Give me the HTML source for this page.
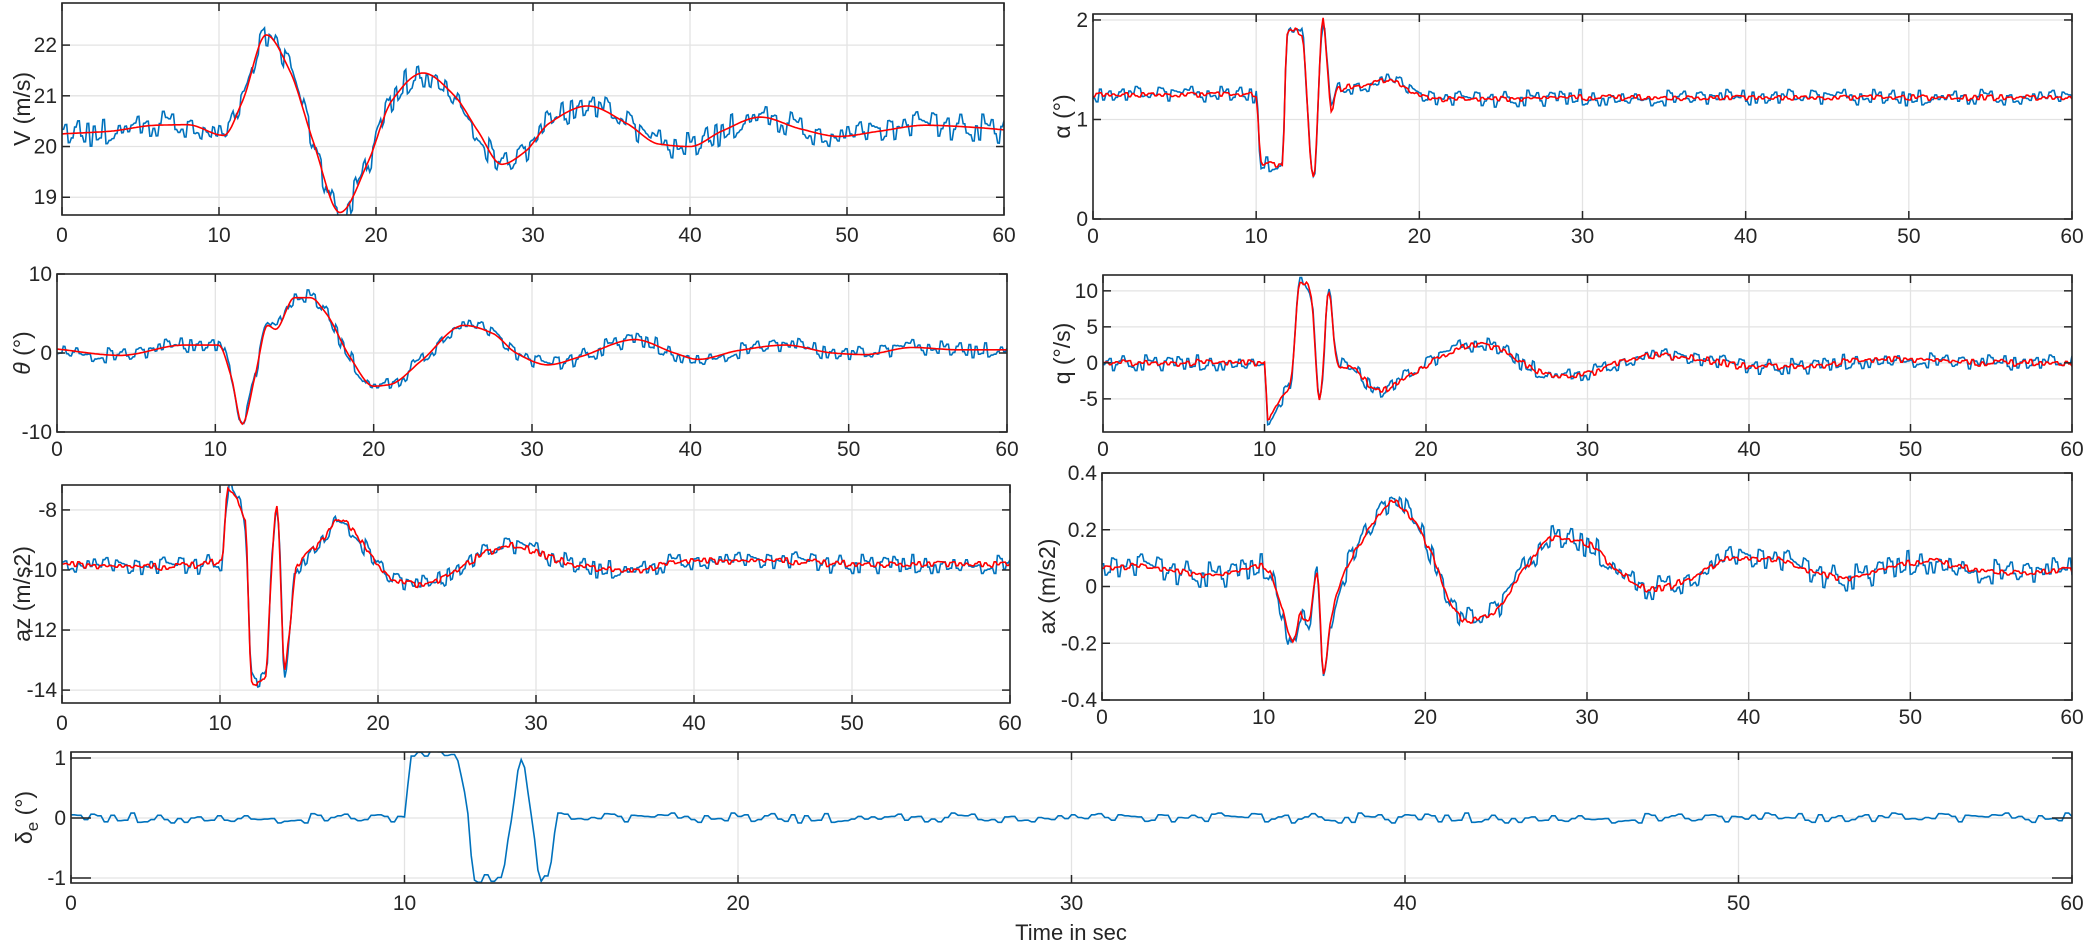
<!DOCTYPE html>
<html><head><meta charset="utf-8"><style>
html,body{margin:0;padding:0;background:#fff;}
svg{display:block;}
text{font-family:"Liberation Sans",sans-serif;fill:#262626;}
</style></head>
<body>
<svg id="fig" width="2087" height="944" viewBox="0 0 2087 944" xmlns="http://www.w3.org/2000/svg">
<text x="1071" y="940" font-size="22" text-anchor="middle">Time in sec</text>
</svg>
<script>
// ===== data (knot times in seconds, values in panel units) =====
const xTicks = [0,10,20,30,40,50,60];
const vTimes = [0,3,6,8,10.3,11.5,13,14.5,16,17.7,19.5,21,23,25,26.5,28,29.5,31,33.5,36,38,40,42,44.5,47,49.5,52,55,58,60];
const vValues = [20.25,20.3,20.42,20.43,20.22,20.9,22.2,21.5,20.1,18.7,19.7,20.9,21.45,21.0,20.3,19.65,19.9,20.45,20.8,20.45,20.05,20.0,20.3,20.58,20.35,20.2,20.3,20.42,20.38,20.33];
const thTimes = [0,4,8,10.2,11,11.7,12.5,13.3,13.8,15,16,17,18.5,20,21,23,25.7,27.5,29,31,33,36.5,39,40.5,43,46,49,51,54,57,60];
const thValues = [0.5,-0.3,1,1,-3,-9,-3,3.5,3,7,7,5,-0.5,-4.2,-4,-1,3.5,2.5,0,-1.5,-0.5,1.7,0,-0.8,0.3,1,0,-0.2,0.7,0.4,0.4];
const azTimes = [0,5,10.1,10.5,11,11.6,12.0,12.3,12.9,13.2,13.6,14.1,14.4,14.8,15.5,16.5,17.5,18.5,19.5,21,23,25,27,28.5,31,33,36,40,45,50,55,60];
const azValues = [-9.8,-9.9,-9.7,-7.3,-7.6,-8.4,-13.6,-13.8,-13.5,-10.5,-7.8,-13.3,-12,-10,-9.5,-9,-8.3,-8.7,-9.5,-10.3,-10.5,-10,-9.4,-9.2,-9.6,-9.9,-10,-9.7,-9.7,-9.8,-9.8,-9.8];
const alTimes = [0,5,10,10.3,11.6,11.9,12.1,12.8,13.5,14.1,14.6,15,17,18,20,22,30,40,50,60];
const alValues = [1.25,1.25,1.25,0.55,0.55,1.85,1.9,1.85,0.4,2.0,1.1,1.3,1.35,1.4,1.25,1.2,1.22,1.22,1.22,1.22];
const qTimes = [0,5,10,10.2,11,11.6,12.2,12.6,12.9,13.4,14,14.5,15.5,16.5,17.2,18,19.5,21,23,24.5,26,28,30,32,34,37,40,43,47,50,54,60];
const qValues = [0,0,0,-7.5,-5,-3,11,11,9,-5.5,10,0,-1,-3,-4,-3,-1,1,2.5,2,0,-1.8,-1.5,0,1,0.5,-0.5,-0.5,0.3,0.5,0,0];
const axTimes = [0,2,5,7,10,10.3,11,11.8,12.3,12.8,13.3,13.7,14.2,15,16.5,18,19,20.5,21.5,22.5,24,26,28,30,32,34,36.5,39,41,44,46,49,51,54,57,60];
const axValues = [0.07,0.07,0.05,0.04,0.07,0.06,-0.05,-0.2,-0.1,-0.12,0.05,-0.3,-0.1,0.05,0.2,0.3,0.25,0.1,-0.05,-0.12,-0.1,0.05,0.17,0.15,0.05,-0.01,0.03,0.1,0.1,0.05,0.03,0.07,0.09,0.06,0.05,0.06];
const deTimes = [0,10,10.2,11.5,11.9,12.1,12.9,13.2,13.5,13.8,14.1,14.3,14.6,60];
const deValues = [0,0,1.05,1.05,0,-1.0,-1.0,0,1.0,0,-1.0,-1.0,0,0];
const noise = [0.3,-0.5,0.8,-0.2,0.1,-0.9,0.4,0.6,-0.3,0.2,-0.7,0.9,-0.1,0.3,-0.6,0.5,-0.4,0.1,0.7,-0.8,
0.2,-0.3,0.6,-0.5,0.9,-0.2,0.0,-0.6,0.4,0.3,-0.9,0.5,-0.1,0.2,-0.4,0.8,-0.7,0.1,0.4,-0.3,
-0.5,0.6,-0.2,0.3,-0.8,0.7,0.1,-0.4,0.5,-0.6,0.2,0.9,-0.3,-0.1,0.4,-0.7,0.6,-0.2,0.3,-0.5,
0.8,-0.4,0.1,-0.9,0.5,0.2,-0.3,0.7,-0.6,0.0,0.4,-0.2,0.6,-0.8,0.3,-0.1,0.5,-0.5,0.9,-0.3,
0.2,-0.7,0.4,0.1,-0.4,0.6,-0.9,0.3,0.5,-0.2,-0.6,0.8,-0.1,0.2,-0.5,0.4,-0.3,0.7,-0.8,0.1,
0.6,-0.4,0.3,-0.2,0.9,-0.6,0.0,0.5,-0.7,0.2,-0.1,0.4,-0.5,0.8,-0.3,0.1,0.6,-0.9,0.3,-0.2,
-0.4,0.7,-0.1,0.5,-0.6,0.2,0.3,-0.8,0.4,-0.3,0.9,-0.5,0.1,-0.2,0.6,-0.7,0.4,0.0,-0.4,0.8,
0.2,-0.6,0.5,-0.1,0.3,-0.9,0.7,-0.2,0.1,-0.5,0.6,-0.3,0.8,-0.7,0.2,0.4,-0.4,0.1,-0.8,0.5,
-0.2,0.3,-0.6,0.9,-0.1,0.4,-0.5,0.2,0.7,-0.3,-0.8,0.6,-0.2,0.1,0.5,-0.4,0.3,-0.7,0.8,-0.1,
0.4,-0.9,0.2,0.6,-0.3,0.1,-0.5,0.7,-0.2,0.3,-0.6,0.5,-0.4,0.9,-0.1,0.2,-0.7,0.4,-0.3,0.6];
const vTicks = [19,20,21,22];
const thTicks = [-10,0,10];
const azTicks = [-14,-12,-10,-8];
const alTicks = [0,1,2];
const qTicks = [-5,0,5,10];
const axTicks = [-0.4,-0.2,0,0.2,0.4];
const axTickLabels = ['-0.4','-0.2','0','0.2','0.4'];
const deTicks = [-1,0,1];

const NS = 'http://www.w3.org/2000/svg';
const fig = document.getElementById('fig');
function mk(tag, attrs, parent){const e=document.createElementNS(NS,tag);for(const k in attrs)e.setAttribute(k,attrs[k]);(parent||fig).appendChild(e);return e;}
function tangents(ts, vs){
  const n=ts.length, h=[], d=[], m=new Array(n).fill(0);
  for(let i=0;i<n-1;i++){h.push(ts[i+1]-ts[i]);d.push((vs[i+1]-vs[i])/h[i]);}
  m[0]=d[0]; m[n-1]=d[n-2];
  for(let i=1;i<n-1;i++){
    if(d[i-1]*d[i]<=0){m[i]=0;}
    else{const w1=2*h[i]+h[i-1], w2=h[i]+2*h[i-1]; m[i]=(w1+w2)/(w1/d[i-1]+w2/d[i]);}
  }
  return m;
}
function interp(t, ts, vs, m){
  let i=0; if(t<=ts[0]) return vs[0]; if(t>=ts[ts.length-1]) return vs[vs.length-1];
  while(ts[i+1]<t) i++;
  const t0=ts[i],t1=ts[i+1],v0=vs[i],v1=vs[i+1],h=t1-t0,s=(t-t0)/h;
  const s2=s*s,s3=s2*s;
  return (2*s3-3*s2+1)*v0+(s3-2*s2+s)*h*m[i]+(-2*s3+3*s2)*v1+(s3-s2)*h*m[i+1];
}
let clipId=0;
function panel(cfg){
  const {name,l,t,r,b,ymin,ymax,ticks,labels}=cfg;
  const g=mk('g',{});
  
  
  const xs=v=>l+(v-0)/(60-0)*(r-l);
  const ys=v=>b-(v-ymin)/(ymax-ymin)*(b-t);
  const m=tangents(cfg.ts,cfg.vs);
  mk('rect',{x:l,y:t,width:r-l,height:b-t,fill:'#fff'},g);
  xTicks.forEach(v=>{
    const gl=mk('line',{x1:xs(v),x2:xs(v),y1:t,y2:b,stroke:'#e3e3e3','stroke-width':1.3},g);
    
    
  });
  ticks.forEach(v=>{
    const gl=mk('line',{x1:l,x2:r,y1:ys(v),y2:ys(v),stroke:'#e3e3e3','stroke-width':1.3},g);
    
    
  });
  const cid='c'+(clipId++);
  const cp=mk('clipPath',{id:cid},g); mk('rect',{x:l,y:t,width:r-l,height:b-t},cp);
  const noff=cfg.noff||0;
  let d='';
  for(let i=0;i<=600;i++){const tt=i*0.1;let v=interp(tt,cfg.ts,cfg.vs,m)+cfg.na*noise[(Math.floor(i/2)*7+noff)%noise.length];d+=(i?'L':'M')+xs(tt).toFixed(1)+','+ys(v).toFixed(1);}
  const pb=mk('path',{d:d,fill:'none',stroke:'#0072BD','stroke-width':1.6,'clip-path':'url(#'+cid+')'},g);
  
  
  if(cfg.red){
    let d2='';
    for(let i=0;i<=600;i++){const tt=i*0.1;let v=interp(tt,cfg.ts,cfg.vs,m)+(cfg.ra||0)*noise[(Math.floor(i/2)*3+noff+57)%noise.length];d2+=(i?'L':'M')+xs(tt).toFixed(1)+','+ys(v).toFixed(1);}
    const pr=mk('path',{d:d2,fill:'none',stroke:'#FF0000','stroke-width':1.6,'clip-path':'url(#'+cid+')'},g);
    
    
  }
  const tl=cfg.tl||8;
  xTicks.forEach(v=>{
    mk('line',{x1:xs(v),x2:xs(v),y1:b,y2:b-tl,stroke:'#262626','stroke-width':1.5},g);
    mk('line',{x1:xs(v),x2:xs(v),y1:t,y2:t+tl,stroke:'#262626','stroke-width':1.5},g);
    const tx=mk('text',{x:xs(v),y:b+(cfg.xlo||27),'font-size':21,'text-anchor':'middle'},g);
    tx.textContent=String(v);
    
    
  });
  const ytl=cfg.ytl||tl;
  ticks.forEach((v,i)=>{
    mk('line',{x1:l,x2:l+ytl,y1:ys(v),y2:ys(v),stroke:'#262626','stroke-width':1.5},g);
    mk('line',{x1:r,x2:r-ytl,y1:ys(v),y2:ys(v),stroke:'#262626','stroke-width':1.5},g);
    const ty=mk('text',{x:l-5,y:ys(v)+7,'font-size':21,'text-anchor':'end'},g);
    ty.textContent=labels?labels[i]:String(v);
    
    
  });
  const box=mk('rect',{x:l,y:t,width:r-l,height:b-t,fill:'none',stroke:'#262626','stroke-width':1.6},g);
  
  
  const yl=mk('text',{x:0,y:0,'font-size':23,'text-anchor':'middle',transform:'translate('+cfg.lx+','+((t+b)/2)+') rotate(-90)'},g);
  yl.innerHTML=cfg.label;
  
  
}
panel({name:'v',l:62,t:3,r:1004,b:215,ymin:18.65,ymax:22.83,ticks:vTicks,ts:vTimes,vs:vValues,na:0.3,red:true,lx:30,label:'V (m/s)',noff:0});
panel({name:'theta',l:57,t:274,r:1007,b:432,ymin:-10,ymax:10,ticks:thTicks,ts:thTimes,vs:thValues,na:1.1,red:true,lx:30,label:'<tspan font-style="italic">θ</tspan> (°)',noff:40,xlo:24});
panel({name:'az',l:62,t:485,r:1010,b:703,ymin:-14.43,ymax:-7.17,ticks:azTicks,ts:azTimes,vs:azValues,na:0.35,red:true,ra:0.12,lx:30,label:'az (m/s2)',noff:80});
panel({name:'alpha',l:1093,t:14,r:2072,b:219,ymin:0,ymax:2.06,ticks:alTicks,ts:alTimes,vs:alValues,na:0.09,red:true,ra:0.03,lx:1070,label:'α (°)',noff:120,xlo:24});
panel({name:'q',l:1103,t:275,r:2072,b:432,ymin:-9.6,ymax:12.2,ticks:qTicks,ts:qTimes,vs:qValues,na:1.2,red:true,ra:0.5,lx:1070,label:'q (°/s)',noff:160,xlo:24});
panel({name:'ax',l:1102,t:473,r:2072,b:700,ymin:-0.4,ymax:0.4,ticks:axTicks,labels:axTickLabels,ts:axTimes,vs:axValues,na:0.05,red:true,ra:0.012,lx:1055,label:'ax (m/s2)',noff:20,xlo:24});
panel({name:'delta-e',l:71,t:752,r:2072,b:883,ymin:-1.083,ymax:1.1,ticks:deTicks,ts:deTimes,vs:deValues,na:0.09,red:false,lx:32,label:'δ<tspan font-size="17" dy="6">e</tspan><tspan dy="-6"> (°)</tspan>',noff:100,ytl:20,xlo:27});
</script>
</body></html>
